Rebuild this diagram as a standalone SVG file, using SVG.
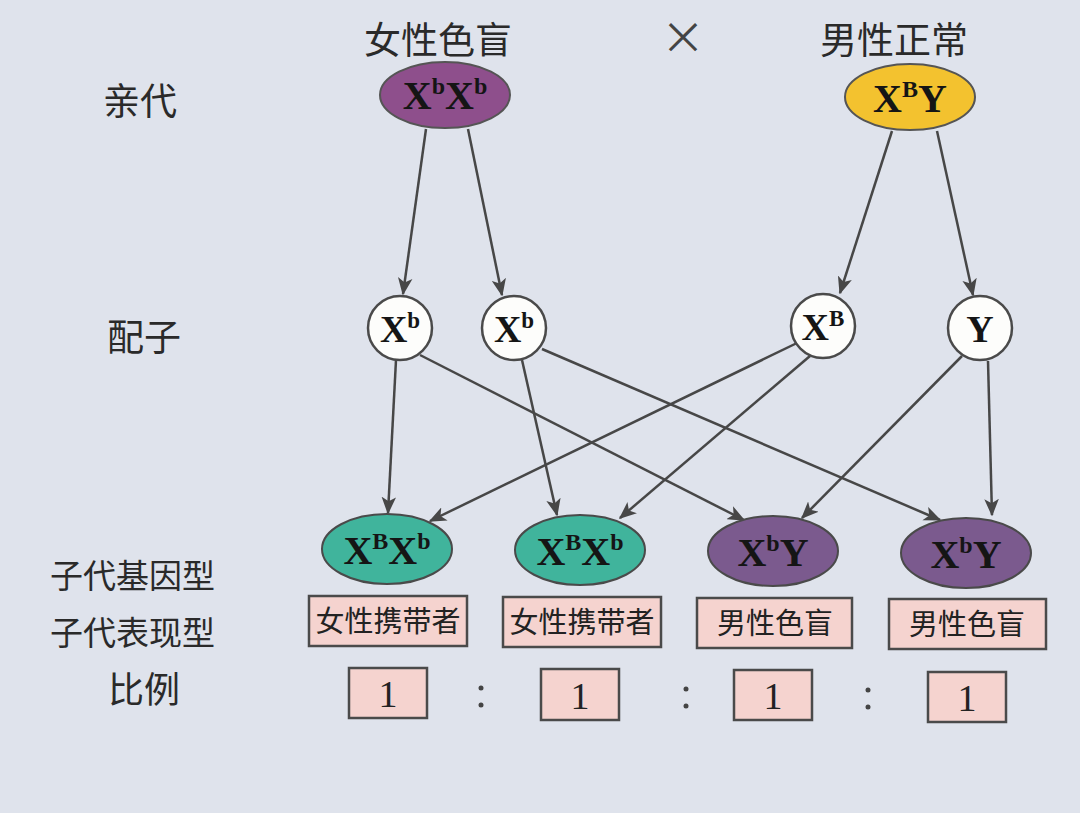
<svg xmlns="http://www.w3.org/2000/svg" width="1080" height="813" viewBox="0 0 1080 813">
<defs>
<style>
.lbl{font-family:"Noto Sans CJK SC","Noto Sans CJK JP",sans-serif;font-size:35px;fill:#2a2a2a}
.g{font-family:"Liberation Serif",serif;font-weight:bold;fill:#151515;text-anchor:middle}
.ph{font-family:"Noto Sans CJK SC",sans-serif;font-size:29px;fill:#222;text-anchor:middle}
.num{font-family:"Liberation Serif",serif;font-size:38px;fill:#222;text-anchor:middle}
.box{fill:#f5d3cf;stroke:#4a4a4a;stroke-width:2.5}
.gam{fill:#fdfdfb;stroke:#4a4a4a;stroke-width:2.5}
.con line{stroke:#474747;stroke-width:2.5;marker-end:url(#ah)}
</style>
<marker id="ah" viewBox="0 0 12 10" refX="11" refY="5" markerWidth="7" markerHeight="6" markerUnits="strokeWidth" orient="auto">
<path d="M0,0 L12,5 L0,10 L3,5 Z" fill="#474747"/>
</marker>
</defs>
<rect width="1080" height="813" fill="#dfe3ec"/>

<g id="labels">
<text class="lbl" x="103" y="115" style="font-size:37px">亲代</text>
<text class="lbl" x="107" y="351" style="font-size:37px">配子</text>
<text class="lbl" x="50" y="588" style="font-size:33px">子代基因型</text>
<text class="lbl" x="50" y="645" style="font-size:33px">子代表现型</text>
<text class="lbl" x="108" y="703" style="font-size:36px">比例</text>
<text class="lbl" x="364" y="54" style="font-size:37px">女性色盲</text>
<text class="lbl" x="820" y="54" style="font-size:37px">男性正常</text>
<text class="lbl" x="683" y="54" style="font-size:44px;text-anchor:middle;fill:#444">×</text>
</g>

<g class="con">
<line x1="426" y1="129" x2="403" y2="294"/>
<line x1="468" y1="129" x2="502" y2="295"/>
<line x1="892" y1="131" x2="840" y2="293"/>
<line x1="937" y1="131" x2="973" y2="295"/>
<line x1="396" y1="360" x2="388" y2="513"/>
<line x1="420" y1="355" x2="744" y2="520"/>
<line x1="522" y1="360" x2="557" y2="515"/>
<line x1="542" y1="349" x2="940" y2="520"/>
<line x1="797" y1="343" x2="430" y2="521"/>
<line x1="810" y1="356" x2="620" y2="518"/>
<line x1="962" y1="356" x2="802" y2="518"/>
<line x1="988" y1="361" x2="992" y2="515"/>
</g>

<g id="p1">
<ellipse cx="445" cy="95" rx="65" ry="33" fill="#8e4f8c" stroke="#555" stroke-width="2"/>
<text class="g" x="445" y="109" font-size="40">X<tspan font-size="24" dy="-15">b</tspan><tspan dy="15">X</tspan><tspan font-size="24" dy="-15">b</tspan></text>
</g>
<g id="p2">
<ellipse cx="910" cy="97" rx="65" ry="33" fill="#f3c22f" stroke="#555" stroke-width="2"/>
<text class="g" x="910" y="112" font-size="40">X<tspan font-size="24" dy="-15">B</tspan><tspan dy="15">Y</tspan></text>
</g>

<g id="g1"><circle class="gam" cx="400" cy="328" r="32"/><text class="g" x="400" y="342" font-size="38">X<tspan font-size="23" dy="-14">b</tspan></text></g>
<g id="g2"><circle class="gam" cx="514" cy="328" r="32"/><text class="g" x="514" y="342" font-size="38">X<tspan font-size="23" dy="-14">b</tspan></text></g>
<g id="g3"><circle class="gam" cx="823" cy="326" r="32"/><text class="g" x="823" y="340" font-size="38">X<tspan font-size="23" dy="-14">B</tspan></text></g>
<g id="g4"><circle class="gam" cx="980" cy="328" r="32"/><text class="g" x="980" y="342" font-size="38">Y</text></g>

<g id="o1">
<ellipse cx="387" cy="549" rx="65" ry="35" fill="#40b49c" stroke="#4a4a4a" stroke-width="2"/>
<text class="g" x="387" y="564" font-size="40">X<tspan font-size="24" dy="-15">B</tspan><tspan dy="15">X</tspan><tspan font-size="24" dy="-15">b</tspan></text>
<rect class="box" x="309" y="596" width="158" height="50"/>
<text class="ph" x="388" y="632">女性携带者</text>
<rect class="box" x="349" y="668" width="78" height="50"/>
<text class="num" x="388" y="707">1</text>
</g>
<g id="o2">
<ellipse cx="580" cy="550" rx="65" ry="35" fill="#40b49c" stroke="#4a4a4a" stroke-width="2"/>
<text class="g" x="580" y="565" font-size="40">X<tspan font-size="24" dy="-15">B</tspan><tspan dy="15">X</tspan><tspan font-size="24" dy="-15">b</tspan></text>
<rect class="box" x="503" y="597" width="158" height="50"/>
<text class="ph" x="582" y="633">女性携带者</text>
<rect class="box" x="541" y="669" width="78" height="51"/>
<text class="num" x="580" y="709">1</text>
</g>
<g id="o3">
<ellipse cx="773" cy="551" rx="65" ry="35" fill="#7b5a8e" stroke="#4a4a4a" stroke-width="2"/>
<text class="g" x="773" y="566" font-size="40">X<tspan font-size="24" dy="-15">b</tspan><tspan dy="15">Y</tspan></text>
<rect class="box" x="697" y="598" width="155" height="50"/>
<text class="ph" x="775" y="634">男性色盲</text>
<rect class="box" x="734" y="670" width="78" height="50"/>
<text class="num" x="773" y="709">1</text>
</g>
<g id="o4">
<ellipse cx="966" cy="553" rx="65" ry="35" fill="#7b5a8e" stroke="#4a4a4a" stroke-width="2"/>
<text class="g" x="966" y="568" font-size="40">X<tspan font-size="24" dy="-15">b</tspan><tspan dy="15">Y</tspan></text>
<rect class="box" x="889" y="599" width="157" height="50"/>
<text class="ph" x="967" y="635">男性色盲</text>
<rect class="box" x="928" y="672" width="78" height="50"/>
<text class="num" x="967" y="711">1</text>
</g>

<g id="colons" fill="#444">
<circle cx="481" cy="688" r="2.5"/><circle cx="481" cy="705" r="2.5"/>
<circle cx="686" cy="689" r="2.5"/><circle cx="686" cy="706" r="2.5"/>
<circle cx="868" cy="690" r="2.5"/><circle cx="868" cy="707" r="2.5"/>
</g>
</svg>
